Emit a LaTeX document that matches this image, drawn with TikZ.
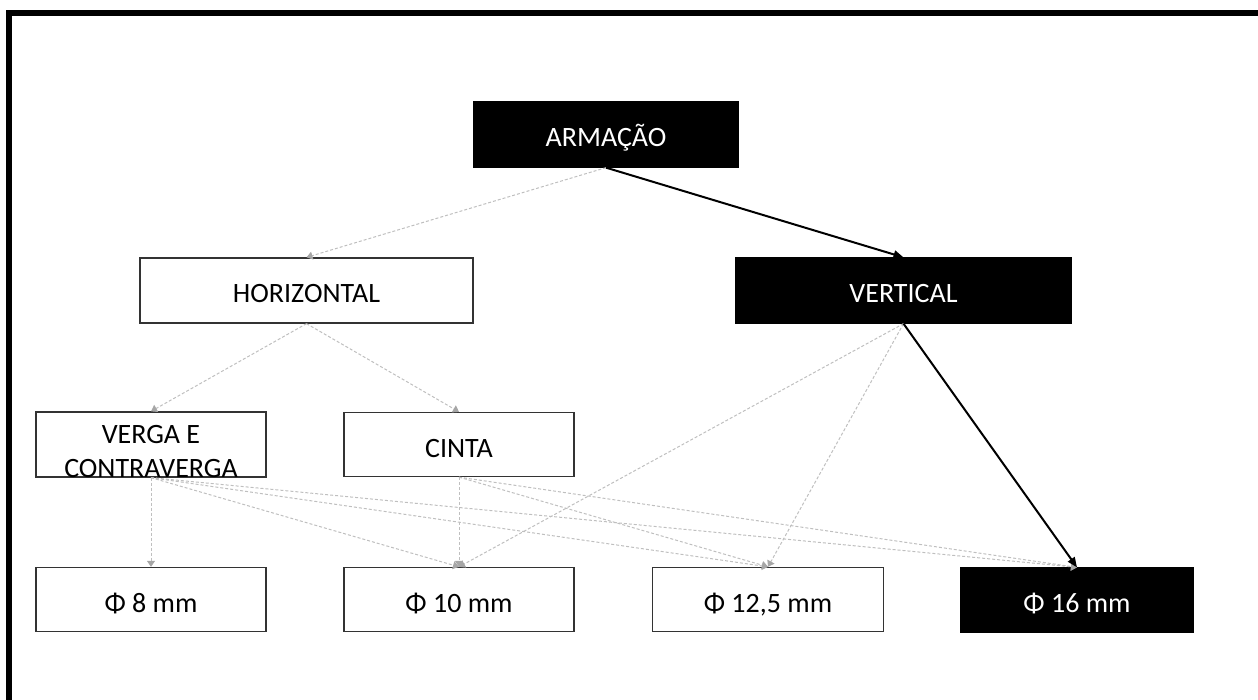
\documentclass[tikz,border=0pt]{standalone}
\usepackage{fontspec}
\setmainfont{Carlito}
\usetikzlibrary{arrows.meta}
\definecolor{lgray}{HTML}{BFBFBF}
\definecolor{agray}{HTML}{A6A6A6}
\begin{document}
\begin{tikzpicture}[x=1pt,y=-1pt,
  box/.style={draw=black!80,line width=1.3pt,fill=white,minimum width=230pt,minimum height=64pt,inner sep=0pt,
    font=\fontsize{28}{34}\selectfont,text height=25pt,text depth=0pt},
  darkbox/.style={box,draw=black,fill=black,text=white},
  weak/.style={draw=lgray,line width=1pt,dash pattern=on 3pt off 2pt,-{Triangle[width=8pt,length=6pt,color=agray]}},
  strong/.style={draw=black,line width=2pt,-{Triangle[width=8pt,length=10pt]}}]
\useasboundingbox (0,0) rectangle (1258,700);
\fill[black] (6,10) rectangle (1258,16);
\fill[black] (6,10) rectangle (12,700);

\node[darkbox,minimum width=264pt,minimum height=65pt] (arm) at (606,134.5) {ARMAÇÃO};
\node[box,minimum width=333pt,minimum height=65pt] (hor) at (306.5,290.5) {HORIZONTAL};
\node[darkbox,minimum width=335pt,minimum height=65pt] (ver) at (903.5,290.5) {VERTICAL};
\node[box,align=center,text height=65pt] (vc) at (151,444.5) {VERGA E\\CONTRAVERGA};
\node[box] (cin) at (459,444.5) {CINTA};
\node[box] (p8) at (151,599.5) {Φ 8 mm};
\node[box] (p10) at (459,599.5) {Φ 10 mm};
\node[box,minimum width=231pt] (p125) at (768,599.5) {Φ 12,5 mm};
\node[darkbox,minimum width=232pt] (p16) at (1077,600) {Φ 16 mm};

\draw[weak] (arm.south) -- (hor.north);
\draw[weak] (hor.south) -- (vc.north);
\draw[weak] (hor.south) -- (cin.north);
\draw[weak] (ver.south) -- (p10.north);
\draw[weak] (ver.south) -- (p125.north);
\draw[weak] (vc.south) -- (p8.north);
\draw[weak] (vc.south) -- (p10.north);
\draw[weak] (vc.south) -- (p125.north);
\draw[weak] (vc.south) -- (p16.north);
\draw[weak] (cin.south) -- (p10.north);
\draw[weak] (cin.south) -- (p125.north);
\draw[weak] (cin.south) -- (p16.north);
\draw[strong] (arm.south) -- (ver.north);
\draw[strong] (ver.south) -- (p16.north);
\end{tikzpicture}
\end{document}
